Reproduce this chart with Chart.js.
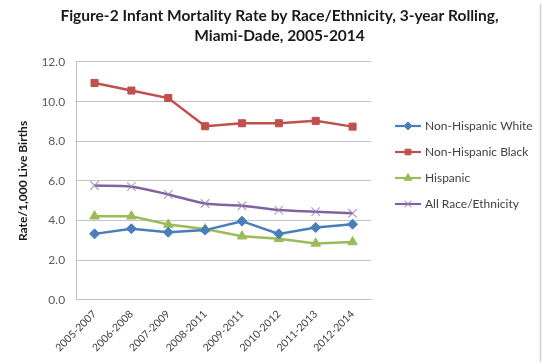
<!DOCTYPE html>
<html>
<head>
<meta charset="utf-8">
<script src="https://cdn.jsdelivr.net/npm/chart.js@4/dist/chart.umd.min.js"></script>
<style>
  html, body { margin: 0; padding: 0; background: #ffffff; }
  #wrap { width: 543px; height: 362px; }
</style>
</head>
<body>
<div id="wrap"><canvas id="c" width="543" height="362"></canvas></div>
<script>
// Three-year rolling periods
const periods = ["2005-2007", "2006-2008", "2007-2009", "2008-2011", "2009-2011", "2010-2012", "2011-2013", "2012-2014"];

// Infant deaths per 1,000 live births
const nonHispanicWhite = [3.33, 3.59, 3.41, 3.52, 3.97, 3.33, 3.65, 3.82];
const nonHispanicBlack = [10.94, 10.56, 10.18, 8.76, 8.91, 8.91, 9.03, 8.74];
const hispanic = [4.22, 4.22, 3.80, 3.57, 3.21, 3.08, 2.85, 2.92];
const allRaces = [5.77, 5.71, 5.32, 4.86, 4.75, 4.53, 4.45, 4.37];

const yTicks = [0, 2, 4, 6, 8, 10, 12];

const seriesNames = ["Non-Hispanic White", "Non-Hispanic Black", "Hispanic", "All Race/Ethnicity"];

const FONT = "Lato, 'Liberation Sans', sans-serif";

// Legend drawn beside the plot: line sample with the series marker
const sideLegend = {
  id: "sideLegend",
  afterDraw(chart) {
    const ctx = chart.ctx;
    const x0 = 395, x1 = 421, tx = 425;
    const rows = [126, 152, 178, 204];
    chart.data.datasets.forEach((ds, i) => {
      const y = rows[i];
      ctx.save();
      ctx.strokeStyle = ds.borderColor;
      ctx.lineWidth = 2.2;
      ctx.beginPath();
      ctx.moveTo(x0, y);
      ctx.lineTo(x1, y);
      ctx.stroke();
      ctx.fillStyle = ds.pointBackgroundColor;
      ctx.strokeStyle = ds.pointBorderColor;
      ctx.lineWidth = ds.pointBorderWidth;
      Chart.helpers.drawPoint(ctx, {
        pointStyle: ds.pointStyle,
        radius: ds.pointRadius * 0.8,
        rotation: 0,
        borderWidth: ds.pointBorderWidth
      }, (x0 + x1) / 2, y);
      ctx.fillStyle = "#404040";
      ctx.font = "12px " + FONT;
      ctx.textBaseline = "middle";
      ctx.textAlign = "left";
      ctx.fillText(ds.label, tx, y);
      ctx.restore();
    });
  }
};

// Thin frame line along the right edge
const frameEdge = {
  id: "frameEdge",
  afterDraw(chart) {
    const ctx = chart.ctx;
    ctx.save();
    ctx.strokeStyle = "#cfcfcf";
    ctx.lineWidth = 1.5;
    ctx.beginPath();
    ctx.moveTo(540.5, 4);
    ctx.lineTo(540.5, 362);
    ctx.stroke();
    ctx.restore();
  }
};

new Chart(document.getElementById("c"), {
  type: "line",
  data: {
    labels: periods,
    datasets: [
      {
        label: seriesNames[0],
        data: nonHispanicWhite,
        borderColor: "#4a7ebb",
        backgroundColor: "#4a7ebb",
        pointBackgroundColor: "#4a7ebb",
        pointBorderColor: "#4a7ebb",
        pointBorderWidth: 1,
        pointStyle: "rectRot",
        pointRadius: 5,
        borderWidth: 2.5,
        tension: 0
      },
      {
        label: seriesNames[1],
        data: nonHispanicBlack,
        borderColor: "#c0504d",
        backgroundColor: "#c0504d",
        pointBackgroundColor: "#c0504d",
        pointBorderColor: "#c0504d",
        pointBorderWidth: 1,
        pointStyle: "rect",
        pointRadius: 5,
        borderWidth: 2.5,
        tension: 0
      },
      {
        label: seriesNames[2],
        data: hispanic,
        borderColor: "#9bbb59",
        backgroundColor: "#9bbb59",
        pointBackgroundColor: "#9bbb59",
        pointBorderColor: "#9bbb59",
        pointBorderWidth: 1,
        pointStyle: "triangle",
        pointRadius: 5.5,
        borderWidth: 2.5,
        tension: 0
      },
      {
        label: seriesNames[3],
        data: allRaces,
        borderColor: "#8064a2",
        backgroundColor: "#8064a2",
        pointBackgroundColor: "rgba(160,140,190,0.7)",
        pointBorderColor: "rgba(150,130,180,0.75)",
        pointBorderWidth: 1.2,
        pointStyle: "crossRot",
        pointRadius: 6,
        borderWidth: 2.5,
        tension: 0.3
      }
    ]
  },
  options: {
    responsive: false,
    animation: false,
    devicePixelRatio: 1,
    layout: { padding: { left: 16, right: 0, top: 0, bottom: 0 } },
    plugins: {
      legend: { display: false },
      tooltip: { enabled: false },
      title: {
        display: true,
        text: ["Figure-2 Infant Mortality Rate by Race/Ethnicity, 3-year Rolling,", "Miami-Dade, 2005-2014"],
        color: "#1a1a1a",
        font: { family: FONT, size: 15.5, weight: "bold", lineHeight: 1.29 },
        padding: { top: 6, bottom: 16 }
      }
    },
    scales: {
      x: {
        type: "category",
        offset: true,
        grid: { display: false, drawTicks: false },
        border: { display: true, color: "#bfbfbf", width: 1 },
        ticks: {
          maxRotation: 45,
          minRotation: 45,
          color: "#404040",
          font: { family: FONT, size: 10.5 },
          padding: 8
        }
      },
      y: {
        min: 0,
        max: 12,
        afterBuildTicks(axis) {
          axis.ticks = yTicks.map(v => ({ value: v }));
        },
        grid: { color: "#c4c4c4", lineWidth: 1, drawTicks: false },
        border: { display: true, color: "#bfbfbf", width: 1 },
        ticks: {
          color: "#595959",
          font: { family: FONT, size: 12 },
          padding: 11,
          callback: v => Number(v).toFixed(1)
        },
        title: {
          display: true,
          text: "Rate/1,000 Live Births",
          color: "#1a1a1a",
          font: { family: FONT, size: 12, weight: "bold" },
          padding: { top: 0, bottom: 0 }
        }
      },
      // empty right-hand band that holds the legend
      legendBand: {
        type: "linear",
        position: "right",
        display: true,
        grid: { display: false, drawTicks: false },
        border: { display: false },
        ticks: { display: false },
        afterFit(scale) { scale.width = 172; }
      }
    }
  },
  plugins: [sideLegend, frameEdge]
});
</script>
</body>
</html>
